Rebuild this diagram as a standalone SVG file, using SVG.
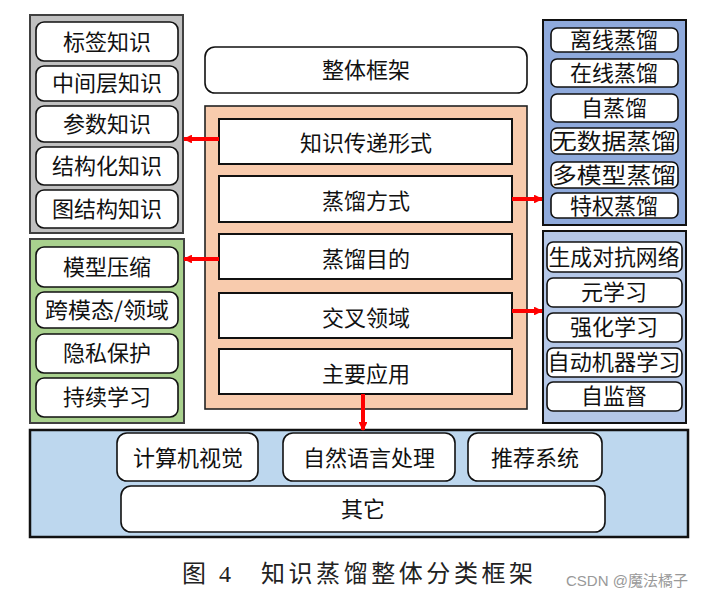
<svg xmlns="http://www.w3.org/2000/svg" width="718" height="599" viewBox="0 0 718 599">
<defs>
<style>
.t{font-family:"Noto Sans CJK SC","Noto Sans",sans-serif;font-size:22px;fill:#111;text-anchor:middle}
.rb{fill:#fff;stroke:#111;stroke-width:1.6}
.sb{fill:#fff;stroke:#111;stroke-width:2}
.arr{stroke:#ff0000;stroke-width:4;fill:none}
.cap{font-family:"Liberation Serif","Noto Sans CJK SC",serif;font-size:24px;fill:#222}
</style>
<marker id="ah" viewBox="0 0 10 10" refX="9" refY="5" markerWidth="2.2" markerHeight="2.2" orient="auto" markerUnits="strokeWidth">
<path d="M0,0 L10,5 L0,10 z" fill="#ff0000"/>
</marker>
</defs>
<rect width="718" height="599" fill="#fff"/>

<g id="panel-knowledge">
<rect x="30" y="15" width="153" height="218" fill="#C0C0C0" stroke="#404040" stroke-width="2"/>
<rect class="rb" x="36" y="22" width="142" height="39" rx="8"/><text class="t" x="107" y="50">标签知识</text>
<rect class="rb" x="36" y="66" width="142" height="35" rx="8"/><text class="t" x="107" y="91">中间层知识</text>
<rect class="rb" x="36" y="106" width="142" height="36" rx="8"/><text class="t" x="107" y="132">参数知识</text>
<rect class="rb" x="36" y="147" width="142" height="38" rx="8"/><text class="t" x="107" y="174">结构化知识</text>
<rect class="rb" x="36" y="190" width="142" height="38" rx="8"/><text class="t" x="107" y="217">图结构知识</text>
</g>

<g id="panel-purpose">
<rect x="30" y="239" width="154" height="184" fill="#A9D18E" stroke="#404040" stroke-width="2"/>
<rect class="rb" x="36" y="247" width="142" height="40" rx="8"/><text class="t" x="107" y="275">模型压缩</text>
<rect class="rb" x="36" y="292" width="142" height="36" rx="8"/><text class="t" x="107" y="318" textLength="124" lengthAdjust="spacingAndGlyphs">跨模态/领域</text>
<rect class="rb" x="36" y="334" width="142" height="39" rx="8"/><text class="t" x="107" y="361">隐私保护</text>
<rect class="rb" x="36" y="378" width="142" height="39" rx="8"/><text class="t" x="107" y="405">持续学习</text>
</g>

<g id="overall">
<rect class="rb" x="205" y="47" width="322" height="46" rx="10"/>
<text class="t" x="366" y="78">整体框架</text>
</g>

<g id="panel-main">
<rect x="205" y="106" width="322" height="303" fill="#F8CBAD" stroke="#222" stroke-width="1.6"/>
<rect class="sb" x="219" y="119" width="293" height="45"/><text class="t" x="366" y="151">知识传递形式</text>
<rect class="sb" x="219" y="176" width="293" height="46"/><text class="t" x="366" y="209">蒸馏方式</text>
<rect class="sb" x="219" y="234" width="293" height="45"/><text class="t" x="366" y="267">蒸馏目的</text>
<rect class="sb" x="219" y="293" width="293" height="45"/><text class="t" x="366" y="326">交叉领域</text>
<rect class="sb" x="219" y="349" width="293" height="45"/><text class="t" x="366" y="382">主要应用</text>
</g>

<g id="panel-method">
<rect x="543" y="20" width="143" height="205" fill="#8FAADC" stroke="#111" stroke-width="2"/>
<rect class="rb" x="551" y="28" width="127" height="24" rx="6"/><text class="t" x="614" y="48">离线蒸馏</text>
<rect class="rb" x="551" y="59" width="127" height="28" rx="6"/><text class="t" x="614" y="81">在线蒸馏</text>
<rect class="rb" x="551" y="94" width="127" height="28" rx="6"/><text class="t" x="614" y="116">自蒸馏</text>
<rect class="rb" x="551" y="128" width="127" height="26" rx="6"/><text class="t" x="614" y="149" textLength="124" lengthAdjust="spacingAndGlyphs">无数据蒸馏</text>
<rect class="rb" x="551" y="162" width="127" height="26" rx="6"/><text class="t" x="614" y="183" textLength="124" lengthAdjust="spacingAndGlyphs">多模型蒸馏</text>
<rect class="rb" x="551" y="193" width="127" height="25" rx="6"/><text class="t" x="614" y="214">特权蒸馏</text>
</g>

<g id="panel-cross">
<rect x="543" y="231" width="143" height="192" fill="#B4C7E7" stroke="#111" stroke-width="2"/>
<rect class="rb" x="547" y="242" width="135" height="30" rx="6"/><text class="t" x="614" y="265" textLength="131" lengthAdjust="spacingAndGlyphs">生成对抗网络</text>
<rect class="rb" x="547" y="278" width="135" height="29" rx="6"/><text class="t" x="614" y="300">元学习</text>
<rect class="rb" x="547" y="313" width="135" height="29" rx="6"/><text class="t" x="614" y="335">强化学习</text>
<rect class="rb" x="547" y="348" width="135" height="29" rx="6"/><text class="t" x="614" y="370" textLength="133" lengthAdjust="spacingAndGlyphs">自动机器学习</text>
<rect class="rb" x="547" y="382" width="135" height="29" rx="6"/><text class="t" x="614" y="404">自监督</text>
</g>

<g id="panel-app">
<rect x="30" y="430" width="658" height="107" fill="#BDD7EE" stroke="#111" stroke-width="2.5"/>
<rect class="rb" x="117" y="433" width="141" height="48" rx="10"/><text class="t" x="188" y="466">计算机视觉</text>
<rect class="rb" x="283" y="433" width="172" height="48" rx="10"/><text class="t" x="369" y="466">自然语言处理</text>
<rect class="rb" x="468" y="433" width="134" height="48" rx="10"/><text class="t" x="535" y="466">推荐系统</text>
<rect class="rb" x="121" y="486" width="484" height="46" rx="10"/><text class="t" x="363" y="517">其它</text>
</g>

<g id="connectors">
<line class="arr" x1="219" y1="139" x2="184" y2="139" marker-end="url(#ah)"/>
<line class="arr" x1="512" y1="199" x2="542" y2="199" marker-end="url(#ah)"/>
<line class="arr" x1="219" y1="259" x2="184" y2="259" marker-end="url(#ah)"/>
<line class="arr" x1="512" y1="311" x2="542" y2="311" marker-end="url(#ah)"/>
<line class="arr" x1="363" y1="394" x2="363" y2="430" marker-end="url(#ah)"/>
</g>

<g id="caption">
<text class="cap" x="182" y="582">图</text>
<text class="cap" x="219" y="582">4</text>
<text class="cap" x="261" y="582" textLength="272" lengthAdjust="spacing">知识蒸馏整体分类框架</text>
<text x="566" y="586" font-family="Liberation Sans,'Noto Sans CJK SC',sans-serif" font-size="15" fill="#999">CSDN @魔法橘子</text>
</g>
</svg>
